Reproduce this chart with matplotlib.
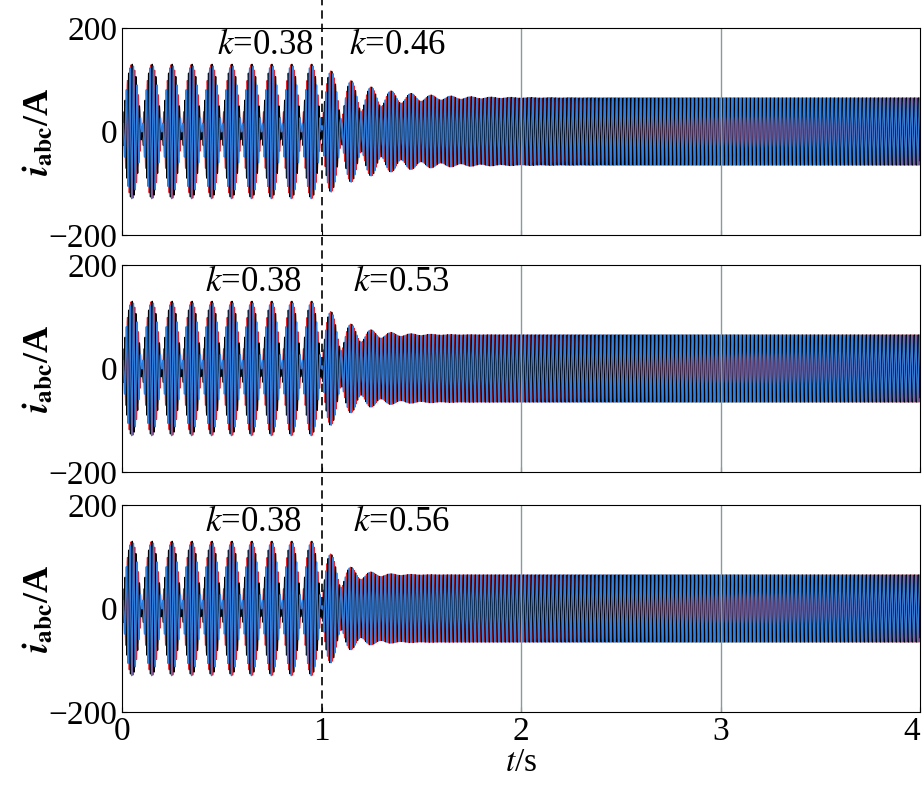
import numpy as np
import matplotlib.pyplot as plt
from matplotlib.lines import Line2D
from matplotlib.transforms import blended_transform_factory

plt.rcParams['font.family'] = ['Liberation Serif', 'DejaVu Serif']
plt.rcParams['mathtext.fontset'] = 'stix'

# values
k_before = "0.38"
k_after = ["0.46", "0.53", "0.56"]
steady_amp = 65.0          # A, steady-state peak after the switch
beat_amp = 65.0            # A, extra oscillating part before t=1
decay_tau = [0.22, 0.13, 0.10]   # s, how fast the beat dies out in each panel
f_grid = 50.0              # Hz
f_beat = 10.0              # Hz, lobes per second before t=1
t_switch = 1.0
phase_colors = ['#e8202a', '#000000', '#2f7fe0']
phase_shift = [0.0, -2 * np.pi / 3, 2 * np.pi / 3]
label_x_before = [0.72, 0.66, 0.66]
label_x_after = [1.38, 1.40, 1.40]

t = np.linspace(0, 4, 40000)

fig = plt.figure(figsize=(9.24, 8.11), dpi=100)
lefts, width = 122 / 924, 798 / 924
tops = [28, 265, 505]
h = 207
axes = []
for p in range(3):
    ax = fig.add_axes([lefts, 1 - (tops[p] + h) / 811, width, h / 811])
    axes.append(ax)
    b = np.where(t < t_switch, beat_amp,
                 beat_amp * np.exp(-(t - t_switch) / decay_tau[p]))
    for c, ph in zip(phase_colors, phase_shift):
        i = steady_amp * np.sin(2 * np.pi * f_grid * t + ph) + \
            b * np.sin(2 * np.pi * (f_grid + f_beat) * t + ph + np.pi)
        ax.plot(t, i, color=c, lw=0.9)
    ax.set_xlim(0, 4)
    ax.set_ylim(-200, 200)
    ax.set_yticks([-200, 0, 200])
    ax.set_xticks([0, 1, 2, 3, 4])
    for xv in (2, 3):
        ax.axvline(xv, color='#8a9a9a', lw=1)
    ax.tick_params(direction='in', labelsize=24)
    if p < 2:
        ax.set_xticklabels([])
    ax.set_ylabel(r'$\mathbfit{i}_{\mathbf{abc}}$/A', fontsize=26,
                  fontweight='bold', labelpad=-6)
    ax.text(label_x_before[p], 167, r'$k$=' + k_before, fontsize=25,
            ha='center', va='center')
    ax.text(label_x_after[p], 167, r'$k$=' + k_after[p], fontsize=25,
            ha='center', va='center')

axes[2].set_xlabel(r'$t$/s', fontsize=24, labelpad=0)
axes[2].get_xticklabels()[-1].set_ha('right')

tr = blended_transform_factory(axes[2].transData, fig.transFigure)
fig.add_artist(Line2D([1, 1], [1 - (tops[2] + h) / 811, 1.0], transform=tr,
                      color='black', lw=1.2, ls=(0, (5, 3))))

fig.savefig('out.png', dpi=100)
